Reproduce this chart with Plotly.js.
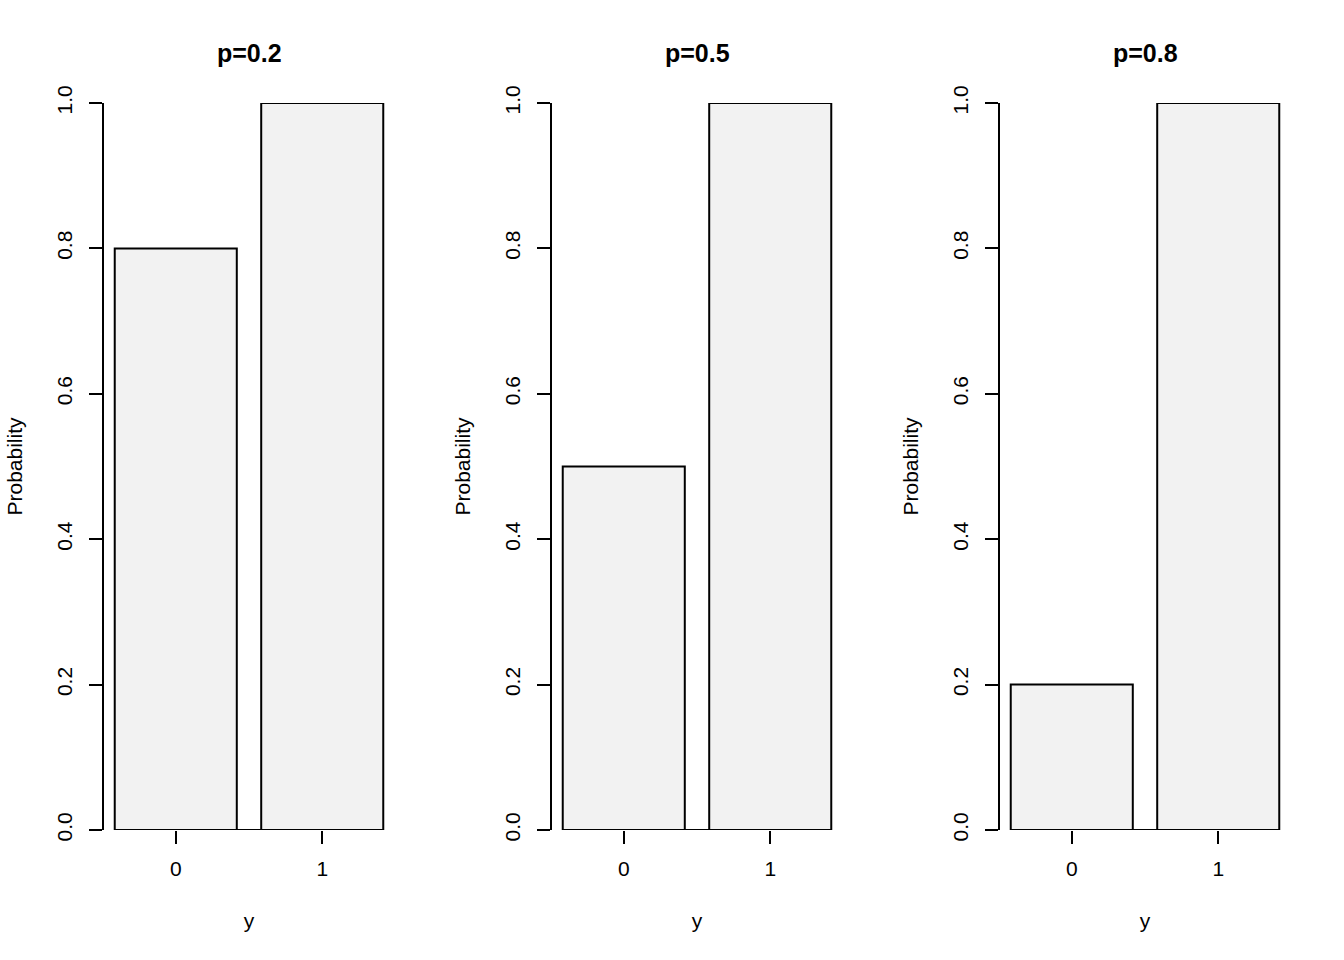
<!DOCTYPE html>
<html><head><meta charset="utf-8">
<script src="https://cdn.plot.ly/plotly-3.0.1.min.js"></script>
<style>html,body{margin:0;padding:0;background:#fff}</style>
</head><body><div id="chart" style="width:1344px;height:960px"></div>
<script>
const categories = ['0', '1'];
const panelTitles = ['p=0.2', 'p=0.5', 'p=0.8'];
const probP02 = [0.8, 1.0];
const probP05 = [0.5, 1.0];
const probP08 = [0.2, 1.0];
const yTickVals = [0, 0.2, 0.4, 0.6, 0.8, 1.0];
const yTickText = ['0.0', '0.2', '0.4', '0.6', '0.8', '1.0'];
const xLabel = 'y';
const yLabel = 'Probability';

const series = [probP02, probP05, probP08];
const FONT = 'Liberation Sans, Arial, Helvetica, sans-serif';
const W = 1344, H = 960;
const baseSize = 21;

const data = [];
const layout = {
  width: W, height: H,
  margin: {l: 0, r: 0, t: 0, b: 0},
  paper_bgcolor: '#fff', plot_bgcolor: '#fff',
  showlegend: false,
  font: {family: FONT, size: baseSize, color: '#000'},
  bargap: 1/6,
  annotations: [],
  shapes: []
};

series.forEach((vals, k) => {
  const sx = k === 0 ? '' : String(k + 1);
  const xa = 'x' + sx, ya = 'y' + sx;
  data.push({
    type: 'bar', x: categories, y: vals, xaxis: xa, yaxis: ya,
    width: 1/1.2,
    marker: {color: '#f2f2f2', line: {color: '#000', width: 2}},
    hoverinfo: 'x+y'
  });
  const left = (104 + 448 * k) / W, right = (394 + 448 * k) / W;
  layout['xaxis' + sx] = {
    domain: [left, right], anchor: ya, type: 'category',
    range: [-0.49, 1.49], showgrid: false, zeroline: false, showline: false,
    ticks: 'outside', ticklen: 13, tickwidth: 2, tickcolor: '#000',
    tickfont: {family: FONT, size: baseSize},
    ticklabelstandoff: 7,
    title: {text: xLabel, font: {family: FONT, size: baseSize}, standoff: 34},
    automargin: false, fixedrange: true
  };
  layout['yaxis' + sx] = {
    domain: [1 - 830 / H, 1 - 103 / H], anchor: xa,
    range: [0, 1], showgrid: false, zeroline: false,
    showline: true, linewidth: 2, linecolor: '#000',
    ticks: 'outside', ticklen: 13, tickwidth: 2, tickcolor: '#000',
    tickvals: yTickVals, ticktext: yTickText, tickangle: -90,
    tickfont: {family: FONT, size: baseSize},
    ticklabelstandoff: 9,
    title: {text: yLabel, font: {family: FONT, size: baseSize}, standoff: 24},
    automargin: false, fixedrange: true
  };
  // x axis line drawn between first and last tick (as in R's axis())
  layout.shapes.push({
    type: 'line', xref: xa, yref: ya,
    x0: categories[0], x1: categories[categories.length - 1], y0: 0, y1: 0,
    line: {color: '#000', width: 2}, layer: 'above'
  });
  layout.annotations.push({
    text: '<b>' + panelTitles[k] + '</b>', xref: xa + ' domain', yref: 'paper',
    x: 0.5, y: 1 - 53 / H, xanchor: 'center', yanchor: 'middle', showarrow: false,
    font: {family: FONT, size: 25, color: '#000'}
  });
});

Plotly.newPlot('chart', data, layout, {displayModeBar: false, staticPlot: true});
</script></body></html>
